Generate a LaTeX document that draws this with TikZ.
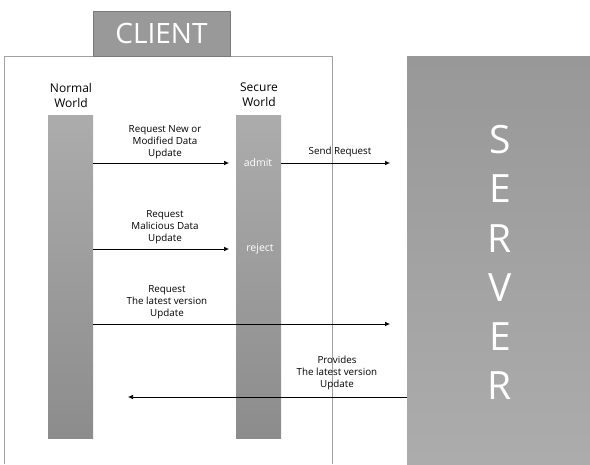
\documentclass[tikz,border=0pt]{standalone}
\usepackage{fontspec}
\setmainfont{Open Sans}
\usetikzlibrary{arrows.meta}
\definecolor{boxgray}{RGB}{153,153,153}
\definecolor{framegray}{RGB}{160,160,160}
\definecolor{bartop}{RGB}{172,172,172}
\definecolor{barbot}{RGB}{140,140,140}
\definecolor{srvtop}{RGB}{152,152,152}
\definecolor{srvbot}{RGB}{172,172,172}
\begin{document}
\begin{tikzpicture}[x=1pt,y=-1pt,
  titlebox/.style={fill=boxgray,draw=boxgray!80!black,line width=0.4pt,minimum width=137pt,minimum height=45pt,inner sep=0pt,text=white,font=\fontsize{28}{30}\selectfont},
  frameline/.style={draw=framegray,line width=0.7pt},
  worldlabel/.style={align=center,font=\fontsize{12}{15}\selectfont,inner sep=0pt},
  bar/.style={top color=bartop,bottom color=barbot,draw=none,minimum width=45pt,minimum height=323pt,inner sep=0pt},
  server/.style={top color=srvtop,bottom color=srvbot,draw=none,minimum width=183pt,minimum height=408pt,inner sep=0pt},
  msg/.style={align=center,font=\fontsize{9.8}{11.8}\selectfont,inner sep=0pt},
  inbar/.style={text=white,font=\fontsize{10.5}{12}\selectfont,inner sep=0pt},
  arr/.style={draw=black,line width=0.6pt,-{Latex[length=5pt,width=4.5pt]}}
]
\useasboundingbox (0,0) rectangle (590,464);
% client frame
\draw[frameline] (4,464) -- (4,56) -- (332,56) -- (332,464);
\node[titlebox] (client) at (161.5,33.5) {CLIENT};
% server
\node[server] (srv) at (498.5,260) {};
\node[text=white,align=center,inner sep=0pt,font=\fontsize{39}{49.2}\selectfont] (srvtxt) at (500,262.5) {S\\E\\R\\V\\E\\R};
% world labels
\node[worldlabel] (nwl) at (71,95) {Normal\\World};
\node[worldlabel] (swl) at (259,95) {Secure\\World};
% bars
\node[bar] (nw) at (70.5,276.5) {};
\node[bar] (sw) at (258.5,276.5) {};
\node[inbar] (admit) at (258,163) {admit};
\node[inbar] (reject) at (260,249) {reject};
% arrow end points
\coordinate (t1) at (229,163);
\coordinate (t2) at (390,163);
\coordinate (t3) at (229,249);
\coordinate (t4) at (390,324);
\coordinate (t5) at (128,397);
\draw[arr] (nw.east |- t1) -- (t1);
\draw[arr] (sw.east |- t2) -- (t2);
\draw[arr] (nw.east |- t3) -- (t3);
\draw[arr] (nw.east |- t4) -- (t4);
\draw[arr] (srv.west |- t5) -- (t5);
% labels
\node[msg] (m1) at (165,142) {Request New or\\Modified Data\\Update};
\node[msg] (m2) at (340,152) {Send Request};
\node[msg] (m3) at (165,227) {Request\\Malicious Data\\Update};
\node[msg] (m4) at (167,302) {Request\\The latest version\\Update};
\node[msg] (m5) at (337,373) {Provides\\The latest version\\Update};
\end{tikzpicture}
\end{document}
